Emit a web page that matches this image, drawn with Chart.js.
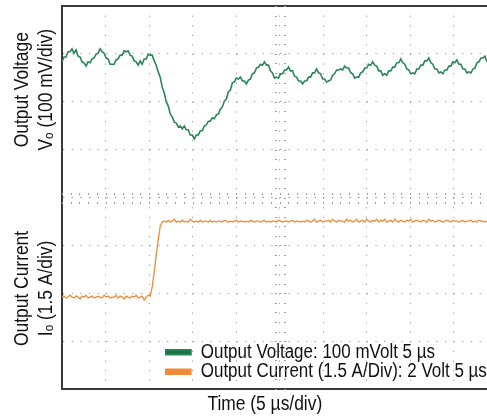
<!DOCTYPE html>
<html>
<head>
<meta charset="utf-8">
<script src="https://cdn.jsdelivr.net/npm/chart.js@4"></script>
<style>
  html, body { margin: 0; padding: 0; background: #fff; }
  #wrap { width: 487px; height: 418px; position: relative; }
</style>
</head>
<body>
<div id="wrap"><canvas id="scope"></canvas></div>
<script>
/* ── DATA ─────────────────────────────────────────────────── */
const DT_US = 0.2304;          // sample spacing of the scope record
const X_MAX_US = 48.85;        // visible time span (5 µs/div)
const TIME_DIV_US = 5;
const VOLT_DIV_MV = 100;
const CURR_DIV_A = 1.5;
const V_TOP_MV = 108.6;        // top of screen, relative to nominal Vout
const I_BOTTOM_A = -2.88;      // bottom of screen, relative to initial load

// output voltage deviation (mV)
const VOUT_MV = [
  -8, 2, 2, 13, 13, 19, 10, 17, 4, 2,
  -8, -10, -17, -8, -10, -2, 0, 8, 10, 19,
  13, 10, 0, -2, -13, -13, -13, -4, -2, 6,
  6, 15, 13, 15, 6, 4, -6, -8, -15, -6,
  -13, -2, -2, 8, 6, 6, -6, -15, -29, -40,
  -61, -73, -92, -100, -117, -123, -134, -136, -144, -142,
  -148, -142, -150, -150, -161, -161, -169, -161, -161, -152,
  -152, -142, -140, -132, -132, -125, -127, -119, -117, -107,
  -102, -90, -86, -71, -67, -52, -50, -42, -44, -40,
  -48, -48, -54, -46, -44, -33, -31, -21, -19, -13,
  -15, -8, -15, -15, -27, -31, -42, -40, -42, -33,
  -33, -25, -25, -19, -27, -27, -38, -40, -48, -48,
  -54, -48, -48, -40, -40, -31, -31, -23, -31, -33,
  -44, -44, -50, -48, -46, -36, -33, -25, -25, -23,
  -25, -17, -21, -21, -31, -33, -42, -40, -40, -31,
  -29, -21, -21, -13, -15, -8, -15, -17, -27, -27,
  -36, -33, -36, -27, -27, -19, -19, -10, -10, -2,
  -10, -13, -23, -25, -33, -31, -33, -23, -23, -15,
  -15, -6, -6, 0, -10, -13, -23, -23, -31, -29,
  -33, -25, -25, -17, -17, -8, -10, -4, -13, -13,
  -23, -23, -31, -29, -31, -23, -21, -10, -8, 0,
  0, 4, -8
];

// output (load) current step (A)
const IOUT_A = [
  0, 0.03, -0.03, 0, 0.06, 0, -0.03, 0.03, 0, -0.06,
  0.03, 0, 0.06, -0.03, 0, 0.03, -0.03, 0, 0.03, 0,
  -0.03, 0.06, 0, 0.03, -0.03, 0, 0, 0.06, -0.03, 0.03,
  0, -0.06, 0.03, 0, -0.03, 0.03, 0, 0.06, -0.03, 0,
  0.03, -0.09, 0, 0.06, 0.03,
  0.31, 0.78, 1.32, 1.79, 2.22,
  2.35, 2.38, 2.35, 2.41, 2.35, 2.38, 2.44, 2.35, 2.38, 2.35,
  2.41, 2.35, 2.38, 2.35, 2.44, 2.38, 2.35, 2.38, 2.35, 2.41,
  2.35, 2.38, 2.38, 2.35, 2.41, 2.35, 2.38, 2.35, 2.38, 2.38,
  2.35, 2.41, 2.38, 2.35, 2.38, 2.35, 2.38, 2.41, 2.35, 2.38,
  2.38, 2.35, 2.38, 2.35, 2.41, 2.38, 2.35, 2.38, 2.38, 2.35,
  2.38, 2.41, 2.35, 2.38, 2.35, 2.38, 2.38, 2.35, 2.41, 2.38,
  2.35, 2.38, 2.38, 2.35, 2.38, 2.41, 2.35, 2.38, 2.38, 2.35,
  2.38, 2.35, 2.41, 2.38, 2.35, 2.38, 2.44, 2.35, 2.38, 2.41,
  2.35, 2.38, 2.38, 2.41, 2.35, 2.44, 2.38, 2.35, 2.41, 2.38,
  2.38, 2.35, 2.44, 2.38, 2.41, 2.35, 2.38, 2.44, 2.35, 2.38,
  2.41, 2.35, 2.44, 2.38, 2.35, 2.41, 2.38, 2.44, 2.35, 2.41,
  2.38, 2.44, 2.35, 2.38, 2.41, 2.35, 2.44, 2.38, 2.35, 2.41,
  2.38, 2.35, 2.41, 2.38, 2.44, 2.35, 2.38, 2.41, 2.38, 2.35,
  2.41, 2.38, 2.35, 2.44, 2.38, 2.41, 2.35, 2.38, 2.41, 2.38,
  2.35, 2.38, 2.41, 2.38, 2.35, 2.41, 2.38, 2.38, 2.35, 2.38,
  2.41, 2.35, 2.38, 2.38, 2.41, 2.35, 2.38, 2.35, 2.41, 2.38,
  2.38, 2.35, 2.38
];

const LEGEND_LABELS = ['Output Voltage: 100 mVolt 5 \u00b5s', 'Output Current (1.5 A/Div): 2 Volt 5 \u00b5s'];
const V_TITLE = ['     Output Voltage', '     V\u2092 (100 mV/div)'];
const I_TITLE = ['  Output Current', '  I\u2092 (1.5 A/div)'];
const X_TITLE = 'Time (5 \u00b5s/div)    ';

/* ── STYLE ────────────────────────────────────────────────── */
const FONT = '"Liberation Sans", Arial, sans-serif';
const NARROW = 0.87;           // no condensed face installed: squeeze text
const GREEN = '#2a8657';
const ORANGE = '#ef8b38';
const GRID = '#9c9c9c';
const FRAME = '#3a3a3a';

const TIME_US = VOUT_MV.map((_, i) => +(i * DT_US).toFixed(4));

/* condensed text: scale glyphs horizontally around the anchor point */
const canvas = document.getElementById('scope');
const ctx = canvas.getContext('2d');
const rawFillText = ctx.fillText.bind(ctx);
ctx.fillText = function (text, x, y, maxWidth) {
    this.save();
    this.translate(x, y);
    this.scale(NARROW, 1);
    if (maxWidth === undefined) rawFillText(text, 0, 0);
    else rawFillText(text, 0, 0, maxWidth / NARROW);
    this.restore();
};

/* scope graticule: 1/5 div marks along the centre axes */
const graticule = {
    id: 'graticule',
    beforeDatasetsDraw(chart) {
        const { ctx, scales: { x, yV, yI } } = chart;
        const cx = Math.round(x.getPixelForValue(5 * TIME_DIV_US));
        const cy = Math.round(yV.bottom);
        ctx.save();
        ctx.fillStyle = GRID;
        for (let t = 0; t <= X_MAX_US; t += TIME_DIV_US / 5) {
            const px = Math.round(x.getPixelForValue(t));
            ctx.fillRect(px, cy - 5, 1, 2);
            ctx.fillRect(px, cy + 4, 1, 2);
        }
        [yV, yI].forEach(s => {
            for (let k = 0; k <= 20; k++) {
                const py = Math.round(s.getPixelForValue(s.min + k * (s.max - s.min) / 20));
                ctx.fillRect(cx - 5, py, 2, 1);
                ctx.fillRect(cx + 4, py, 2, 1);
            }
        });
        ctx.restore();
    }
};

/* legend sits inside the screen, bottom right */
const legendPlace = {
    id: 'legendPlace',
    afterLayout(chart) {
        const a = chart.chartArea;
        chart.legend.left = a.left + 103;
        chart.legend.bottom = a.bottom - 7.5;
    }
};

function divTicks(step) {
    return axis => {
        axis.ticks = [0, 1, 2, 3, 4].map(k => ({ value: axis.min + k * step }));
    };
}

const yCommon = {
    type: 'linear',
    position: 'left',
    stack: 'scope',
    stackWeight: 1,
    ticks: { display: false },
    grid: { color: GRID, lineWidth: 1, drawTicks: false },
    border: { display: true, color: FRAME, width: 2, dash: [1.2, 7.48] }
};

const titleFont = { family: FONT, size: 20 };

new Chart(ctx, {
    type: 'line',
    data: {
        datasets: [
            {
                label: LEGEND_LABELS[0],
                data: TIME_US.map((t, i) => ({ x: t, y: VOUT_MV[i] })),
                yAxisID: 'yV',
                borderColor: GREEN,
                backgroundColor: '#1f7446',
                borderWidth: 1.6,
                pointRadius: 0,
                tension: 0
            },
            {
                label: LEGEND_LABELS[1],
                data: TIME_US.map((t, i) => ({ x: t, y: IOUT_A[i] })),
                yAxisID: 'yI',
                borderColor: ORANGE,
                backgroundColor: ORANGE,
                borderWidth: 1.3,
                pointRadius: 0,
                tension: 0
            }
        ]
    },
    options: {
        responsive: true,
        maintainAspectRatio: false,
        animation: false,
        events: [],
        layout: { padding: { left: 6, top: 6, right: 0, bottom: 2 } },
        font: { family: FONT },
        plugins: {
            tooltip: { enabled: false },
            legend: {
                position: 'chartArea',
                align: 'end',
                labels: {
                    boxWidth: 26,
                    boxHeight: 5,
                    padding: 0,
                    color: '#111',
                    font: { family: FONT, size: 19.5 }
                }
            }
        },
        scales: {
            x: {
                type: 'linear',
                min: 0,
                max: X_MAX_US,
                ticks: { display: false, stepSize: TIME_DIV_US, includeBounds: false },
                grid: { color: GRID, lineWidth: 1, drawTicks: false },
                border: { display: true, color: FRAME, width: 2, dash: [1.2, 8.38] },
                title: { display: true, text: X_TITLE, color: '#111', font: titleFont, padding: { top: 3, bottom: 0 } }
            },
            xTop: {
                type: 'linear',
                position: 'top',
                min: 0,
                max: X_MAX_US,
                ticks: { display: false },
                grid: { display: false, drawTicks: false },
                border: { display: true, color: FRAME, width: 2 }
            },
            yI: Object.assign({}, yCommon, {
                min: I_BOTTOM_A,
                max: I_BOTTOM_A + 4 * CURR_DIV_A,
                afterBuildTicks: divTicks(CURR_DIV_A),
                title: { display: true, text: I_TITLE, color: '#111', font: titleFont, padding: { top: 4, bottom: 4 } }
            }),
            yV: Object.assign({}, yCommon, {
                min: V_TOP_MV - 4 * VOLT_DIV_MV,
                max: V_TOP_MV,
                afterBuildTicks: divTicks(VOLT_DIV_MV),
                title: { display: true, text: V_TITLE, color: '#111', font: titleFont, padding: { top: 4, bottom: 4 } }
            })
        }
    },
    plugins: [graticule, legendPlace]
});
</script>
</body>
</html>
